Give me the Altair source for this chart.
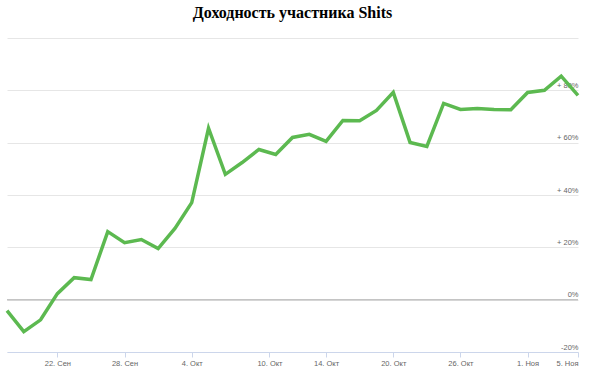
import altair as alt
import pandas as pd

# point index along the (ordinal) time axis
point_index = list(range(35))
# returns in percent
returns = [-4.2, -12.2, -7.7, 2.3, 8.4, 7.7, 26.0, 21.8, 23.0, 19.5,
           27.2, 37.1, 65.5, 47.9, 52.4, 57.4, 55.5, 62.0, 63.2, 60.5,
           68.5, 68.4, 72.3, 79.2, 60.1, 58.6, 75.0, 72.7, 73.1, 72.7,
           72.6, 79.2, 80.0, 85.4, 78.1]

tick_positions = [3, 7, 11, 15.63, 19, 23, 27, 31, 34]
tick_labels = ["22. Сен", "28. Сен", "4. Окт", "10. Окт", "14. Окт",
               "20. Окт", "26. Окт", "1. Ноя", "5. Ноя"]
y_ticks = [-20, 0, 20, 40, 60, 80, 100]
zero_line = [0]

df = pd.DataFrame({"i": point_index, "v": returns})
zdf = pd.DataFrame({"z": zero_line})

x_expr = ""
for p, l in zip(tick_positions, tick_labels):
    x_expr += f"abs(datum.value - {p}) < 0.01 ? '{l}' : "
x_expr += "''"

y_expr = ("datum.value >= 100 ? '' : (datum.value > 0 ? '+ ' + datum.value + '%' "
          ": datum.value + '%')")

label_font = "Liberation Sans"

zero_rule = alt.Chart(zdf).mark_rule(color="#c4c4c4", strokeWidth=1.5).encode(
    y=alt.Y("z:Q", title=None)
)

line = alt.Chart(df).mark_line(color="#5cb950", strokeWidth=3.5).encode(
    x=alt.X(
        "i:Q",
        scale=alt.Scale(domain=[0, 34], nice=False, zero=False),
        axis=alt.Axis(
            values=tick_positions, labelExpr=x_expr, grid=False,
            domainColor="#ccd6eb", tickColor="#ccd6eb", tickSize=5,
            labelFontSize=7.5, labelColor="#666666", labelFont=label_font,
            labelFlush=True, labelPadding=2, title=None, labelOverlap=False,
        ),
    ),
    y=alt.Y(
        "v:Q",
        scale=alt.Scale(domain=[-20, 100], nice=False, zero=False),
        axis=alt.Axis(
            orient="right", values=y_ticks, labelExpr=y_expr, grid=True,
            gridColor="#e6e6e6", domain=False, ticks=False, tickSize=0,
            labelAlign="right", labelPadding=0, labelBaseline="alphabetic",
            labelOffset=-3, labelFontSize=7.5, labelColor="#666666",
            labelFont=label_font, title=None, labelOverlap=False,
        ),
    ),
)

chart = alt.layer(zero_rule, line).properties(
    width=571,
    height=314,
    padding={"left": 7, "top": 38, "right": 12, "bottom": 19},
    autosize=alt.AutoSizeParams(type="none"),
    title=alt.TitleParams(
        "Доходность участника Shits",
        font="Liberation Serif", fontSize=16, fontWeight="bold",
        color="#000000", offset=8, anchor="middle", frame="group",
    ),
).configure(background="white", view=alt.ViewConfig(stroke=None))

chart.save("out.html", embed_options={"renderer": "svg", "actions": False})
